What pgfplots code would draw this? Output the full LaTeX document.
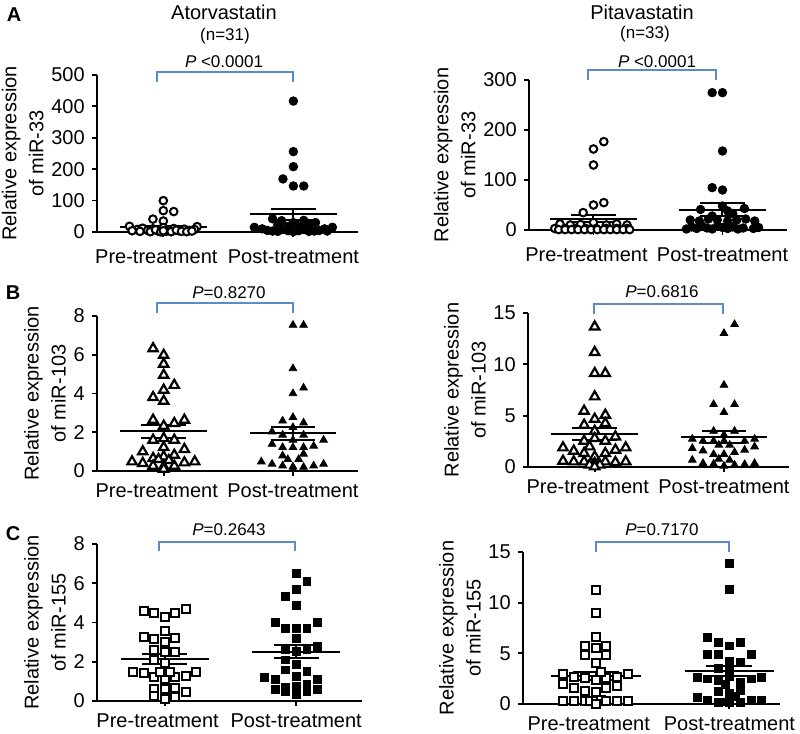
\documentclass[border=0pt]{standalone}
\usepackage{fontspec}
\setmainfont{Liberation Sans}
\usepackage{pgfplots}
\pgfplotsset{compat=1.18}
\definecolor{brk}{RGB}{91,140,200}
\pgfplotsset{
  panel/.style={scale only axis, anchor=south west,
    axis x line=bottom, axis y line=left,
    axis line style={-, line width=0.9pt, black},
    tick style={line width=0.9pt, black},
    tick align=outside, major tick length=2.6pt,
    xtick={1,2}, xticklabels={{Pre-treatment\hspace*{7pt}},Post-treatment},
    ymin=0, clip=false, enlargelimits=false,
    ticklabel style={font=\fontsize{10}{12}\selectfont},
    /pgf/number format/assume math mode=true,
    ylabel style={align=center, font=\fontsize{10}{13.5}\selectfont},
    ylabel shift=-3pt,
  },
  meanline/.style={black, line width=1pt, no marks, forget plot},
  ocirc/.style={only marks, mark=*, mark size=1.9pt, mark options={fill=white, draw=black, line width=1pt}},
  fcirc/.style={only marks, mark=*, mark size=2.15pt, mark options={fill=black, draw=black}},
  otri/.style={only marks, mark=triangle*, mark size=2.7pt, mark options={fill=white, draw=black, line width=1.1pt}},
  ftri/.style={only marks, mark=triangle*, mark size=2.2pt, mark options={fill=black, draw=black}},
  osq/.style={only marks, mark=square*, mark size=2pt, mark options={fill=white, draw=black, line width=1pt}},
  fsq/.style={only marks, mark=square*, mark size=1.95pt, mark options={fill=black, draw=black}},
}
\begin{document}
\begin{tikzpicture}
\path[use as bounding box] (0,0) rectangle (400pt,367pt);

% ---------------- A left
\begin{axis}[panel, at={(48.5pt,251pt)}, width=130.7pt, height=78.5pt,
  xmin=0.49, xmax=2.5, ymax=500, ytick={0,100,200,300,400,500},
  x tick label style={yshift=-2.5pt},
  ylabel={Relative expression\\of miR-33}]
\addplot[ocirc] coordinates {(1,99.8)(1,68)(1.08,65)(0.92,41)(1,35)
 (0.74,18)(1.26,17)(0.8,8)(0.84,12)(0.88,5)(0.92,10)(0.96,3)(1,14)(1.04,6)(1.08,11)(1.12,4)(1.16,9)(1.2,5)(1.24,8)(0.76,4)(0.82,2)(0.9,1)(0.94,7)(1.02,2)(1.06,1)(1.1,6)(1.14,2)(1.18,1)(1.22,3)(0.98,0.5)(1,4)};
\addplot[fcirc] coordinates {(2,417)(2,256)(2,208)(1.92,169)(2,146.5)(2.08,146.5)
 (1.84,42)(1.91,36)(2.08,37)(2.17,30)(2,30)(1.88,22)(2.12,24)(2.04,20)(1.96,18)(1.7,15)(2.3,15)(1.76,10)(2.24,10)(1.8,5)(2.2,5)(1.84,3)(2.16,3)(1.92,8)(2.08,8)(1.88,2)(2.12,2)(1.96,4)(2.04,4)(2,1)(2.26,3)};
\addplot[meanline] coordinates {(0.665,15)(1.335,15)};
\addplot[meanline] coordinates {(0.828,18.5)(1.172,18.5)};
\addplot[meanline] coordinates {(0.828,11.5)(1.172,11.5)};
\addplot[meanline] coordinates {(1,11.5)(1,18.5)};
\addplot[meanline] coordinates {(1.665,56)(2.335,56)};
\addplot[meanline] coordinates {(1.828,73)(2.172,73)};
\addplot[meanline] coordinates {(1.828,39)(2.172,39)};
\addplot[meanline] coordinates {(2,39)(2,73)};
\end{axis}

% ---------------- A right
\begin{axis}[panel, at={(264.5pt,252pt)}, width=129pt, height=75pt,
  xmin=0.5, xmax=2.5, ymax=300, ytick={0,100,200,300},
  x tick label style={yshift=-2.5pt},
  ylabel={Relative expression\\of miR-33}]
\addplot[ocirc] coordinates {(1.08,176.7)(1,162)(1,130)(1,50)(1.08,54.7)(0.92,34.7)
 (0.74,12)(0.82,10)(0.9,11)(1,15)(1.1,10)(1.18,12)(1.26,10)
 (0.7,3)(0.78,3)(0.86,3)(0.94,3)(1.02,3)(1.1,3)(1.18,3)(1.26,3)
 (0.73,0.8)(0.78,0.8)(0.83,0.8)(0.88,0.8)(0.93,0.8)(0.98,0.8)(1.03,0.8)(1.08,0.8)(1.13,0.8)(1.18,0.8)(1.23,0.8)(1.28,0.8)};
\addplot[fcirc] coordinates {(1.92,274.7)(2,274.7)(2,158)(1.92,84.7)(2,80)
 (1.83,41)(2.17,43)(2,48)(1.92,28)(2.08,33)(2.04,38)
 (1.75,20)(1.82,18)(1.89,22)(1.96,20)(2.04,18)(2.11,20)(2.18,22)(2.25,18)
 (1.72,2)(1.76,6)(1.8,3)(1.84,8)(1.88,4)(1.92,2)(1.96,7)(2.0,5)(2.04,3)(2.08,6)(2.12,2)(2.16,4)(2.24,3)(2.28,5)};
\addplot[meanline] coordinates {(0.665,22.5)(1.335,22.5)};
\addplot[meanline] coordinates {(0.828,29.5)(1.172,29.5)};
\addplot[meanline] coordinates {(0.828,16)(1.172,16)};
\addplot[meanline] coordinates {(1,16)(1,29.5)};
\addplot[meanline] coordinates {(1.665,40)(2.335,40)};
\addplot[meanline] coordinates {(1.828,53)(2.172,53)};
\addplot[meanline] coordinates {(1.828,28)(2.172,28)};
\addplot[meanline] coordinates {(2,28)(2,53)};
\end{axis}

% ---------------- B left
\begin{axis}[panel, at={(48.5pt,131.5pt)}, width=130.3pt, height=77.5pt,
  xmin=0.484, xmax=2.5, ymax=8, ytick={0,2,4,6,8},
  ylabel={Relative expression\\of miR-103}]
\addplot[otri] coordinates {(0.918,6.32)(1,5.98)(1,5.52)(1,4.95)(1.082,4.43)(1,4.18)(0.918,3.80)(1,3.61)(0.918,2.63)(1.16,2.63)(1.082,2.46)(1,2.32)(0.918,1.60)(1.082,1.60)(1,1.68)(1,1.22)(0.838,1.0)(1.16,1.12)(0.755,0.48)(0.838,0.40)(0.918,0.65)(1,0.74)(1.082,0.82)(1.16,0.43)(1.24,0.48)(0.918,0.26)(1,0.22)(1.082,0.26)(0.96,0.6)(1.04,0.55)(1,0.1)};
\addplot[ftri] coordinates {(2,7.53)(2.082,7.53)(2,5.29)(2.082,4.29)(2,4.0)(2,2.77)(1.92,2.59)(2.082,2.49)(2,2.25)(1.838,2.03)(1.92,1.86)(2.082,1.86)(2.237,1.60)(1.838,1.39)(2.16,1.29)(1.92,1.22)(2,1.22)(2.082,1.22)(2.082,0.88)(1.92,0.79)(1.96,0.6)(2.044,0.6)(1.755,0.48)(1.838,0.36)(1.92,0.27)(2,0.22)(2.082,0.2)(2.16,0.27)(2.237,0.36)(2,1.6)(2,0.1)};
\addplot[meanline] coordinates {(0.665,2.06)(1.335,2.06)};
\addplot[meanline] coordinates {(0.828,2.37)(1.172,2.37)};
\addplot[meanline] coordinates {(0.828,1.72)(1.172,1.72)};
\addplot[meanline] coordinates {(1,1.72)(1,2.37)};
\addplot[meanline] coordinates {(1.665,1.94)(2.335,1.94)};
\addplot[meanline] coordinates {(1.828,2.29)(2.172,2.29)};
\addplot[meanline] coordinates {(1.828,1.60)(2.172,1.60)};
\addplot[meanline] coordinates {(2,1.60)(2,2.29)};
\end{axis}

% ---------------- B right
\begin{axis}[panel, at={(264pt,133.5pt)}, width=130.3pt, height=77pt,
  xmin=0.484, xmax=2.5, ymax=15, ytick={0,5,10,15},
  ylabel={Relative expression\\of miR-103}]
\addplot[otri] coordinates {(1,13.66)(1,11.17)(1,9.12)(1.082,9.12)(1,6.85)(0.918,5.45)(1.082,5.06)(1,4.67)(1.082,4.25)(0.918,4.09)(1,3.5)(1.16,2.95)(0.918,2.53)(1.082,2.53)(1,2.79)(0.755,1.88)(1.24,1.88)(0.838,1.56)(1.16,1.66)(0.96,1.98)(0.918,1.33)(1.082,1.33)(1,1.0)(0.755,0.58)(0.838,0.52)(0.918,0.52)(1,0.36)(1.082,0.52)(1.16,0.45)(1.24,0.52)(0.96,0.2)(1.04,0.2)(1,0.03)};
\addplot[ftri] coordinates {(2.082,13.89)(2,13.02)(2,7.98)(1.92,6.1)(2.082,6.1)(2,5.32)(1.92,3.5)(2.082,3.5)(2,3.12)(1.755,2.73)(1.838,2.53)(1.92,2.53)(2,2.53)(2.16,2.53)(2.237,2.73)(1.96,2.14)(2.044,2.14)(1.755,1.82)(1.838,1.59)(2.082,1.43)(2.16,1.66)(2.237,1.98)(1.92,1.24)(2,1.24)(1.96,0.78)(2.044,0.68)(1.755,0.68)(1.838,0.36)(1.92,0.3)(2,0.1)(2.082,0.2)(2.16,0.26)(2.237,0.36)};
\addplot[meanline] coordinates {(0.665,3.21)(1.335,3.21)};
\addplot[meanline] coordinates {(0.828,3.77)(1.172,3.77)};
\addplot[meanline] coordinates {(0.828,2.6)(1.172,2.6)};
\addplot[meanline] coordinates {(1,2.6)(1,3.77)};
\addplot[meanline] coordinates {(1.665,2.95)(2.335,2.95)};
\addplot[meanline] coordinates {(1.828,3.5)(2.172,3.5)};
\addplot[meanline] coordinates {(1.828,2.37)(2.172,2.37)};
\addplot[meanline] coordinates {(2,2.37)(2,3.5)};
\end{axis}

% ---------------- C left
\begin{axis}[panel, at={(48.5pt,16.5pt)}, width=132.5pt, height=78.5pt,
  xmin=0.486, xmax=2.5, ymax=8, ytick={0,2,4,6,8},
  ylabel={Relative expression\\of miR-155}]
\addplot[osq] coordinates {(0.84,4.59)(0.922,4.5)(1,4.30)(1.081,4.5)(1.16,4.69)(1,3.58)(0.84,3.28)(0.922,3.16)(1,3.0)(1.081,3.19)(0.922,2.6)(1,2.51)(1.081,2.51)(0.922,2.09)(1,1.92)(0.76,1.46)(0.84,1.41)(0.922,1.21)(1,1.12)(1.081,1.21)(1.16,1.29)(1.238,1.49)(0.962,1.46)(1.043,1.46)(0.922,0.6)(1,0.6)(1.081,0.68)(1.16,0.47)(0.922,0.25)(1,0.09)(1.081,0.22)};
\addplot[fsq] coordinates {(2,6.51)(2.081,6.08)(2,5.69)(1.919,5.32)(2,4.89)(1.84,4.01)(2.16,4.01)(1.919,3.70)(2,3.70)(2.081,3.70)(2,3.19)(2.16,2.77)(1.919,2.6)(2.081,2.6)(2,2.51)(1.919,2.09)(2,1.87)(1.919,1.58)(2.081,1.49)(2,1.27)(1.76,1.19)(1.84,1.1)(2.16,1.1)(1.84,0.6)(1.919,0.68)(1.919,0.47)(2,0.76)(2.081,0.87)(2,0.31)(2.081,0.47)(2.16,0.6)};
\addplot[meanline] coordinates {(0.665,2.12)(1.335,2.12)};
\addplot[meanline] coordinates {(0.828,2.37)(1.172,2.37)};
\addplot[meanline] coordinates {(0.828,1.87)(1.172,1.87)};
\addplot[meanline] coordinates {(1,1.87)(1,2.37)};
\addplot[meanline] coordinates {(1.665,2.51)(2.335,2.51)};
\addplot[meanline] coordinates {(1.828,2.85)(2.172,2.85)};
\addplot[meanline] coordinates {(1.828,2.17)(2.172,2.17)};
\addplot[meanline] coordinates {(2,2.17)(2,2.85)};
\end{axis}

% ---------------- C right
\begin{axis}[panel, at={(261.5pt,15pt)}, width=128.6pt, height=76pt,
  xmin=0.456, xmax=2.38, ymax=15, ytick={0,5,10,15},
  ylabel={Relative expression\\of miR-155}]
\addplot[osq] coordinates {(1,11.25)(1,9.02)(1,6.58)(0.92,5.73)(1,5.56)(1.08,5.73)(0.92,4.84)(1.08,4.84)(1,4.08)
 (0.758,2.93)(0.84,2.7)(0.92,2.6)(1,2.37)(1.08,2.6)(1.16,2.7)(1.244,2.93)(1.04,3.13)
 (0.758,1.94)(0.84,1.61)(0.92,1.28)(1,1.15)(1.08,1.55)(1.16,1.81)
 (0.758,0.3)(0.84,0.25)(0.92,0.25)(0.96,0.3)(1,0.25)(1.04,0.4)(1.08,0.25)(1.16,0.25)(1.244,0.3)(1,0.0)};
\addplot[fsq] coordinates {(2,13.9)(2,11.3)(1.838,6.55)(1.918,6.05)(2.082,6.05)(2,5.73)(1.838,4.9)(1.918,4.9)(2.162,4.9)(2,4.24)(2.082,4.1)(1.918,3.52)(2,3.19)(1.76,2.6)(1.838,2.47)(1.918,2.27)(2.082,2.14)(2.162,2.47)(2.242,2.6)(2,2.7)(1.918,1.28)(2,1.05)(2.082,1.38)(2.042,0.72)(1.76,0.62)(1.838,0.4)(1.918,0.17)(2,0.17)(2.082,0.17)(2.162,0.4)(2.242,0.4)(1.963,0.2)(1.97,1.9)};
\addplot[meanline] coordinates {(0.665,2.8)(1.335,2.8)};
\addplot[meanline] coordinates {(0.828,3.2)(1.172,3.2)};
\addplot[meanline] coordinates {(0.828,2.4)(1.172,2.4)};
\addplot[meanline] coordinates {(1,2.4)(1,3.2)};
\addplot[meanline] coordinates {(1.665,3.29)(2.335,3.29)};
\addplot[meanline] coordinates {(1.828,3.79)(2.172,3.79)};
\addplot[meanline] coordinates {(1.828,2.79)(2.172,2.79)};
\addplot[meanline] coordinates {(2,2.79)(2,3.79)};
\end{axis}

% ---------------- titles and annotations
\node[font=\fontsize{10}{12}\selectfont] at (112pt,361pt) {Atorvastatin};
\node[font=\fontsize{8.5}{10}\selectfont] at (112.5pt,349pt) {(n=31)};
\node[font=\fontsize{8.5}{10}\selectfont] at (112pt,336pt) {\textit{P} <0.0001};
\node[font=\fontsize{10}{12}\selectfont] at (321pt,361pt) {Pitavastatin};
\node[font=\fontsize{8.5}{10}\selectfont] at (322.5pt,350pt) {(n=33)};
\node[font=\fontsize{8.5}{10}\selectfont] at (328.5pt,336pt) {\textit{P} <0.0001};
\node[font=\fontsize{8.5}{10}\selectfont] at (114.5pt,220.5pt) {\textit{P}=0.8270};
\node[font=\fontsize{8.5}{10}\selectfont] at (331pt,221pt) {\textit{P}=0.6816};
\node[font=\fontsize{8.5}{10}\selectfont] at (114.5pt,102pt) {\textit{P}=0.2643};
\node[font=\fontsize{8.5}{10}\selectfont] at (331pt,102pt) {\textit{P}=0.7170};

\draw[brk, line width=0.6pt] (78.5pt,326pt) -- (78.5pt,331pt) -- (146.5pt,331pt) -- (146.5pt,326pt);
\draw[brk, line width=0.6pt] (294pt,327pt) -- (294pt,332pt) -- (358pt,332pt) -- (358pt,327pt);
\draw[brk, line width=0.6pt] (78.5pt,210.5pt) -- (78.5pt,215.5pt) -- (146.5pt,215.5pt) -- (146.5pt,210.5pt);
\draw[brk, line width=0.6pt] (297pt,210pt) -- (297pt,215pt) -- (361.5pt,215pt) -- (361.5pt,210pt);
\draw[brk, line width=0.6pt] (79.5pt,91.5pt) -- (79.5pt,96pt) -- (147.5pt,96pt) -- (147.5pt,91.5pt);
\draw[brk, line width=0.6pt] (298pt,91pt) -- (298pt,96pt) -- (364.5pt,96pt) -- (364.5pt,91pt);

\node[font=\fontsize{10}{12}\selectfont\bfseries] at (7pt,359.5pt) {A};
\node[font=\fontsize{10}{12}\selectfont\bfseries] at (6.5pt,220.5pt) {B};
\node[font=\fontsize{10}{12}\selectfont\bfseries] at (6.5pt,100pt) {C};
\end{tikzpicture}
\end{document}
